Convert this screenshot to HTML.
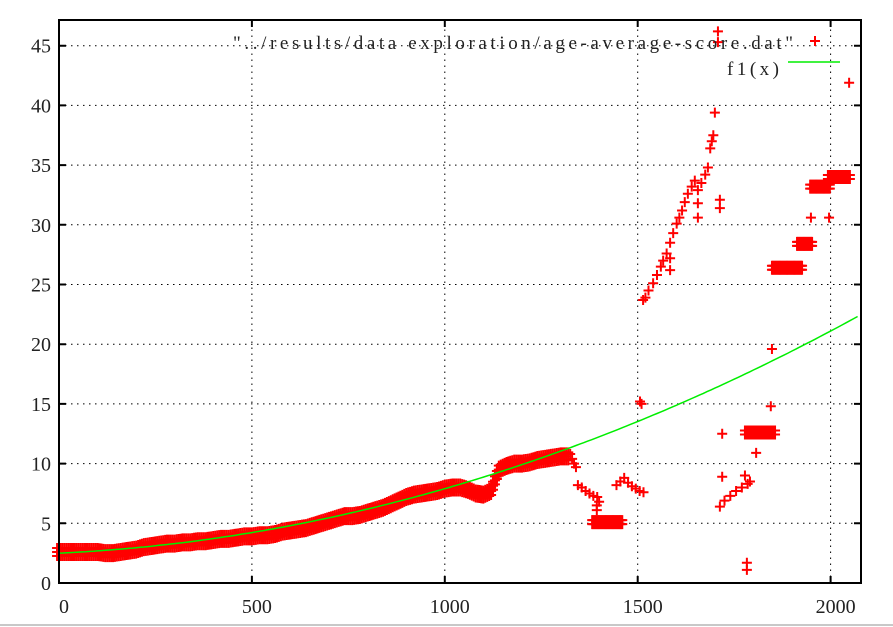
<!DOCTYPE html>
<html><head><meta charset="utf-8"><style>
html,body{margin:0;padding:0;background:#fff;}
svg{display:block;font-family:"Liberation Serif",serif;}
</style></head><body>
<svg id="chart" width="893" height="627" viewBox="0 0 893 627" xmlns="http://www.w3.org/2000/svg">
<g id="grid"></g>
<g id="marks"></g>
<g id="fit"></g>
<g id="axes"></g>
<g id="legend">
  <text x="793" y="49" text-anchor="end" font-size="19" textLength="560" lengthAdjust="spacing" fill="#222">"../results/data exploration/age-average-score.dat"</text>
  <text x="779" y="75" text-anchor="end" font-size="19" textLength="52" lengthAdjust="spacing" fill="#222">f1(x)</text>
  <line x1="788" y1="62" x2="840" y2="62" stroke="#00ee00" stroke-width="1.5"/>
</g>
<line x1="0" y1="625" x2="893" y2="625" stroke="#c8c8c8" stroke-width="2"/>
</svg>
<script>
const xTicks = [0, 500, 1000, 1500, 2000];
const yTicks = [0, 5, 10, 15, 20, 25, 30, 35, 40, 45];
const bandX = [-5,0,20,40,60,80,100,120,140,160,180,200,220,240,260,280,300,320,340,360,380,400,420,440,460,480,500,520,540,560,580,600,620,640,660,680,700,720,740,760,780,800,820,840,860,880,900,920,940,960,980,1000,1020,1040,1060,1080,1100,1120,1140,1160,1180,1200,1220,1240,1260,1280,1300,1320];
const bandY = [2.6,2.6,2.6,2.6,2.6,2.6,2.6,2.5,2.5,2.6,2.7,2.8,3.0,3.1,3.2,3.3,3.3,3.4,3.4,3.5,3.5,3.6,3.7,3.7,3.8,3.9,3.9,4.0,4.0,4.1,4.3,4.4,4.5,4.6,4.8,5.0,5.2,5.4,5.6,5.6,5.7,5.9,6.1,6.3,6.6,6.9,7.2,7.4,7.5,7.6,7.7,7.9,8.0,8.0,7.8,7.5,7.4,7.7,9.5,9.8,10.0,10.0,10.1,10.3,10.4,10.5,10.6,10.6];
const pointX = [1325,1330,1335,1340,1345,1355,1365,1375,1385,1395,1400,1394,1394,1445,1455,1465,1475,1485,1495,1505,1515,1506,1510,1514,1520,1528,1540,1550,1560,1566,1575,1584,1584,1584,1592,1601,1608,1615,1622,1630,1640,1648,1656,1656,1656,1665,1675,1682,1688,1692,1696,1700,1708,1708,1713,1713,1719,1719,1713,1725,1740,1755,1770,1785,1791,1778,1807,1783,1783,1848,1845,1949,1996,2048];
const pointY = [10.8,10.4,10.0,9.7,8.2,8.0,7.7,7.5,7.3,7.2,6.8,6.5,6.1,8.2,8.5,8.8,8.4,8.1,7.9,7.7,7.6,15.2,15.0,23.7,23.9,24.5,25.1,25.8,26.5,27.0,27.6,28.5,27.2,26.2,29.3,30.1,30.6,31.2,31.9,32.6,33.2,33.7,32.9,31.8,30.6,33.5,34.2,34.8,36.4,37.0,37.5,39.4,46.2,45.3,32.1,31.4,12.5,8.9,6.4,6.9,7.3,7.7,8.0,8.3,8.5,9.0,10.9,1.7,1.1,19.6,14.8,30.6,30.6,41.9];
const segStart = [1382,1778,1848,1913,1947,1993];
const segEnd = [1462,1856,1926,1954,1999,2050];
const segY = [5.1,12.6,26.4,28.4,33.2,34.0];
const fitCoef = [2.5, 0.0015, 0.0000039];

const X0 = 59, X1 = 861, Y0 = 583, Y1 = 20;
const xs = v => X0 + v * 0.3858;
const ys = v => Y0 - v * 11.94;
const NS = 'http://www.w3.org/2000/svg';
function mk(tag, attrs, parent){const e=document.createElementNS(NS,tag);for(const k in attrs)e.setAttribute(k,attrs[k]);parent.appendChild(e);return e;}

const grid = document.getElementById('grid');
const axes = document.getElementById('axes');
const marks = document.getElementById('marks');
const fit = document.getElementById('fit');

xTicks.forEach(t=>{
  const x = xs(t);
  if (t>0){
    const g = mk('line',{x1:x,y1:Y0,x2:x,y2:Y1,stroke:'#000','stroke-width':1,'stroke-dasharray':'1.5,4.5'},grid);
    
    
  }
  const tk = mk('path',{d:`M${x},${Y0}v-7M${x},${Y1}v7`,stroke:'#000','stroke-width':2},axes);
  
  
  const lb = mk('text',{x:x+5,y:613,'text-anchor':'middle','font-size':20,fill:'#222'},axes);
  lb.textContent = t;
  
  
});
yTicks.forEach(t=>{
  const y = ys(t);
  if (t>0){
    const g = mk('line',{x1:X0,y1:y,x2:X1,y2:y,stroke:'#000','stroke-width':1,'stroke-dasharray':'1.5,4.5'},grid);
    
    
  }
  const tk = mk('path',{d:`M${X0},${y}h7M${X1},${y}h-7`,stroke:'#000','stroke-width':2},axes);
  
  
  const lb = mk('text',{x:51,y:y+7,'text-anchor':'end','font-size':20,fill:'#222'},axes);
  lb.textContent = t;
  
  
});
const frame = mk('rect',{x:X0,y:Y1,width:X1-X0,height:Y0-Y1,fill:'none',stroke:'#000','stroke-width':2},axes);



function plus(x,y,name){
  const p = mk('path',{d:`M${x-5},${y}h10M${x},${y-5}v10`,stroke:'#ff0000','stroke-width':2},marks);
  
  
}
bandX.forEach((v,i)=>{
  if (i<bandX.length-1){
    for(let k=0;k<4;k++){
      const f=k/4;
      const mx=v+(bandX[i+1]-v)*f, my=bandY[i]+(bandY[i+1]-bandY[i])*f;
      plus(xs(mx),ys(my)-4,'band-point');
      plus(xs(mx),ys(my),'band-point');
      plus(xs(mx),ys(my)+4,'band-point');
    }
  } else {
    plus(xs(v),ys(bandY[i])-4,'band-point');
    plus(xs(v),ys(bandY[i])+4,'band-point');
  }
});
pointX.forEach((v,i)=>{
  plus(xs(v),ys(pointY[i]),'data-point');
});
segStart.forEach((s,i)=>{
  for(let v=s; v<=segEnd[i]; v+=3){ plus(xs(v),ys(segY[i])-2,'cluster-point'); plus(xs(v),ys(segY[i])+2,'cluster-point'); }
});
plus(815,41,'legend-marker');

let d='';
for(let v=0; v<=2079; v+=10){
  const y = fitCoef[0]+fitCoef[1]*v+fitCoef[2]*v*v;
  d += (v===0?'M':'L')+xs(v).toFixed(1)+','+ys(y).toFixed(1);
}
const fl = mk('path',{d:d,fill:'none',stroke:'#00ee00','stroke-width':1.5},fit);


</script>
</body></html>
